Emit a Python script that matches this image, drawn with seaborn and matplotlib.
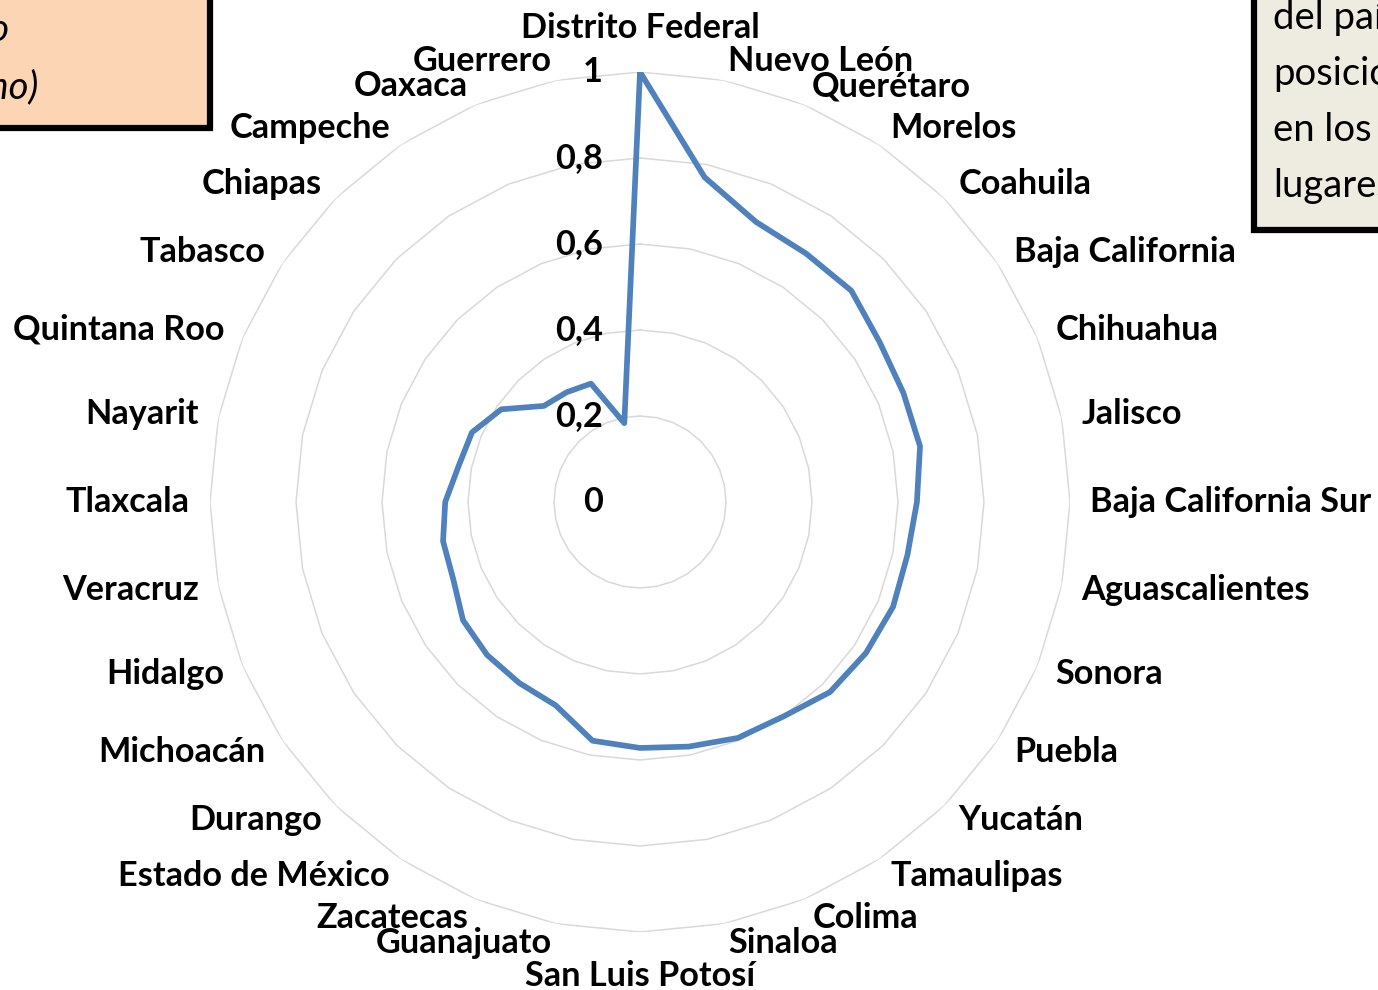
import numpy as np
import pandas as pd
import matplotlib
matplotlib.use("Agg")
import matplotlib.pyplot as plt
import seaborn as sns
from matplotlib.patches import Rectangle

# Data
estados = ["Distrito Federal", "Nuevo León", "Querétaro", "Morelos", "Coahuila",
           "Baja California", "Chihuahua", "Jalisco", "Baja California Sur",
           "Aguascalientes", "Sonora", "Puebla", "Yucatán", "Tamaulipas", "Colima",
           "Sinaloa", "San Luis Potosí", "Guanajuato", "Zacatecas", "Estado de México",
           "Durango", "Michoacán", "Hidalgo", "Veracruz", "Tlaxcala", "Nayarit",
           "Quintana Roo", "Tabasco", "Chiapas", "Campeche", "Oaxaca", "Guerrero"]
valores = [1.0, 0.77, 0.705, 0.695, 0.695,
           0.67, 0.663, 0.664, 0.644,
           0.634, 0.637, 0.632, 0.625, 0.60, 0.594,
           0.58, 0.572, 0.566, 0.512, 0.506,
           0.503, 0.495, 0.47, 0.467, 0.453, 0.43,
           0.423, 0.388, 0.316, 0.307, 0.298, 0.187]
niveles = [0, 0.2, 0.4, 0.6, 0.8, 1.0]
etiquetas_niveles = ["0", "0,2", "0,4", "0,6", "0,8", "1"]
texto_izq = ["Índice relativo", "(DF = máximo)"]
texto_der = ["del país", "posición", "en los", "lugares"]

sns.set_theme(style="white")
plt.rcParams["font.family"] = ["Lato", "DejaVu Sans"]
plt.rcParams["text.color"] = "black"

W, H = 1378, 990
cx, cy, R = 640, 502, 430
fig = plt.figure(figsize=(W / 100, H / 100), dpi=100)
ax = fig.add_axes([(cx - R) / W, (H - cy - R) / H, 2 * R / W, 2 * R / H], projection="polar")
ax.set_theta_zero_location("N")
ax.set_theta_direction(-1)

n = len(estados)
ang = np.arange(n) * 2 * np.pi / n
ang_c = np.append(ang, 2 * np.pi)

# polygon grid
for r in niveles[1:]:
    ax.plot(ang_c, [r] * (n + 1), color="#D9D9D9", lw=1.1, zorder=1)

df = pd.DataFrame({"theta": ang_c, "valor": valores + valores[:1]})
sns.lineplot(data=df, x="theta", y="valor", ax=ax, color="#4F81BD", lw=4.1,
             sort=False, zorder=3, solid_joinstyle="round")

ax.set_ylim(0, 1)
ax.grid(False)
ax.spines["polar"].set_visible(False)
ax.set_xticks([])
ax.set_yticks([])
ax.set_xlabel("")
ax.set_ylabel("")
ax.patch.set_alpha(0)

fs = 24.7
for r, lab in zip(niveles, etiquetas_niveles):
    ax.annotate(lab, xy=(0, r), xytext=(-37, 0), textcoords="offset pixels",
                ha="right", va="center", fontsize=fs, fontweight="bold")

for a, name in zip(ang, estados):
    s, c = np.sin(a), np.cos(a)
    if abs(s) < 0.01:
        ha, off = "center", (0, 44 * np.sign(c))
    else:
        ha, off = ("left" if s > 0 else "right"), (20 * s, 20 * c)
    ax.annotate(name, xy=(a, 1.0), xytext=off, textcoords="offset pixels",
                ha=ha, va="center", fontsize=fs, fontweight="bold")

# cropped text boxes at the corners
fs_box = 27.5
fig.patches.append(Rectangle((-30 / W, (H - 127.5) / H), 240 / W, 160 / H,
                             transform=fig.transFigure, facecolor="#FCD5B4",
                             edgecolor="black", lw=4.5, zorder=0))
fig.text(9 / W, (H - 30) / H, texto_izq[0], ha="right", va="center",
         fontsize=fs_box, style="italic")
fig.text(38 / W, (H - 87) / H, texto_izq[1], ha="right", va="center",
         fontsize=fs_box, style="italic")

fig.patches.append(Rectangle((1253.5 / W, (H - 230) / H), 200 / W, 260 / H,
                             transform=fig.transFigure, facecolor="#EEECE1",
                             edgecolor="black", lw=4.5, zorder=0))
for i, t in enumerate(texto_der):
    fig.text(1273 / W, (H - 18 - 56 * i) / H, t, ha="left", va="center",
             fontsize=fs_box)

fig.savefig("out.png", dpi=100)
plt.close(fig)
